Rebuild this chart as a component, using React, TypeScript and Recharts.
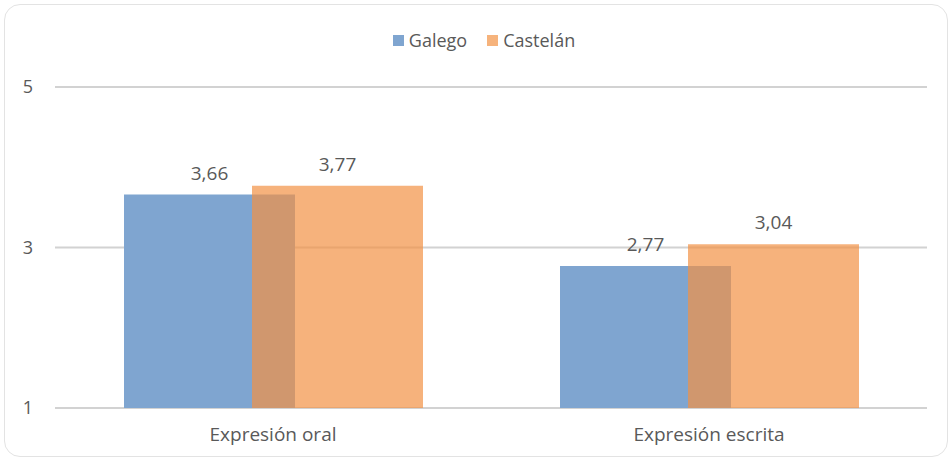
import React from 'react';
import { BarChart, Bar, XAxis, YAxis, CartesianGrid, LabelList } from 'recharts';

const categories = ['Expresión oral', 'Expresión escrita'];
const galego = [3.66, 2.77];
const castelan = [3.77, 3.04];
const yTicks = [1, 3, 5];
const minorTicks = [2, 4];

const data = categories.map((name, i) => ({ name, galego: galego[i], castelan: castelan[i] }));

const FONT = '"Open Sans", "Liberation Sans", sans-serif';
const TEXT = '#595959';
const BLUE = '#7fa5d0';
const ORANGE = '#f29244';

const fmt = (v: any) => Number(v).toFixed(2).replace('.', ',');

const YTick = ({ y, payload }: any) => (
    <text x={33} y={y} dy={6} textAnchor="end" fill={TEXT} fontSize={18} fontFamily={FONT}>
        {payload.value}
    </text>
);

const legendItems = [
    { label: 'Galego', color: BLUE },
    { label: 'Castelán', color: '#f6b37c' },
];

export default function App() {
    return (
        <div style={{ position: 'absolute', left: 0, top: 0, width: 952, height: 461, background: '#fff' }}>
            <div
                style={{
                    position: 'absolute',
                    left: 4,
                    top: 4,
                    width: 944,
                    height: 453,
                    boxSizing: 'border-box',
                    border: '1.5px solid #e3e3e3',
                    borderRadius: 16,
                }}
            />
            {/* legend kept outside the chart so it does not push the plot down */}
            <div
                style={{
                    position: 'absolute',
                    left: 0,
                    top: 28,
                    width: 968,
                    display: 'flex',
                    justifyContent: 'center',
                    gap: 20,
                    fontFamily: FONT,
                    fontSize: 18,
                    color: TEXT,
                    lineHeight: '24px',
                }}
            >
                {legendItems.map((it) => (
                    <div key={it.label} style={{ display: 'flex', alignItems: 'center', gap: 5 }}>
                        <div style={{ width: 11, height: 11, background: it.color }} />
                        <span>{it.label}</span>
                    </div>
                ))}
            </div>
            <div style={{ position: 'absolute', left: 0, top: 0 }}>
                <BarChart
                    width={952}
                    height={461}
                    data={data}
                    margin={{ top: 87, right: 25, bottom: 23, left: 0 }}
                    barSize={171}
                    barGap={-43}
                >
                    <CartesianGrid yAxisId="minor" vertical={false} stroke="#f1f1f1" strokeWidth={1} />
                    <CartesianGrid vertical={false} stroke="#d2d2d2" strokeWidth={2} />
                    <XAxis
                        dataKey="name"
                        axisLine={false}
                        tickLine={false}
                        tickMargin={14}
                        tick={{ fill: TEXT, fontSize: 19, fontFamily: FONT }}
                    />
                    <YAxis
                        width={55}
                        domain={[1, 5]}
                        ticks={yTicks}
                        axisLine={false}
                        tickLine={false}
                        tick={<YTick />}
                    />
                    <YAxis yAxisId="minor" hide domain={[1, 5]} ticks={minorTicks} />
                    <Bar dataKey="galego" fill={BLUE} isAnimationActive={false}>
                        <LabelList
                            dataKey="galego"
                            position="top"
                            offset={15}
                            formatter={fmt}
                            fill={TEXT}
                            fontSize={19}
                            fontFamily={FONT}
                        />
                    </Bar>
                    <Bar dataKey="castelan" fill={ORANGE} fillOpacity={0.7} isAnimationActive={false}>
                        <LabelList
                            dataKey="castelan"
                            position="top"
                            offset={15}
                            formatter={fmt}
                            fill={TEXT}
                            fontSize={19}
                            fontFamily={FONT}
                        />
                    </Bar>
                </BarChart>
            </div>
        </div>
    );
}
